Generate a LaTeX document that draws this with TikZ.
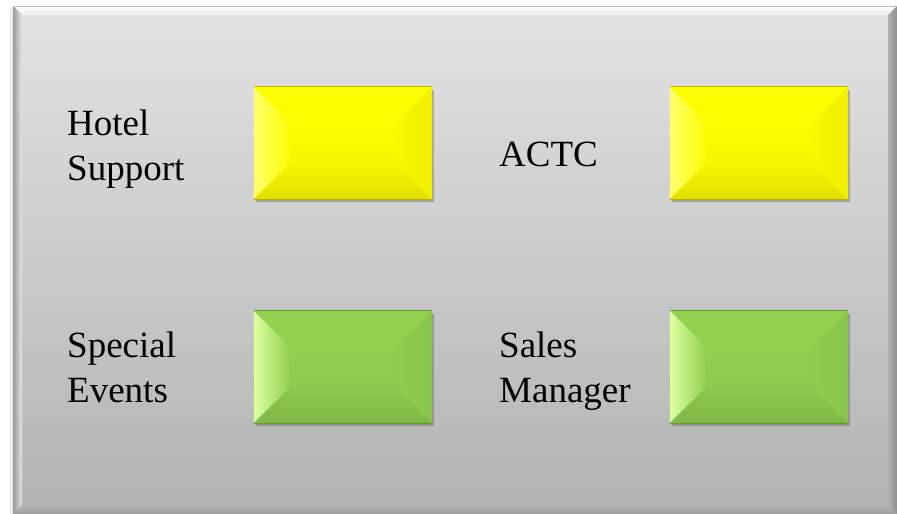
\documentclass[tikz,border=0pt]{standalone}
\usepackage{fontspec}
\setmainfont{Liberation Serif}
\usetikzlibrary{calc,shadows}

\definecolor{panelTop}{HTML}{E3E3E3}
\definecolor{panelBot}{HTML}{B2B2B2}
\definecolor{yelFace}{HTML}{FDFD00}
\definecolor{yelLight}{HTML}{FFFF70}
\definecolor{yelDark}{HTML}{E0E000}
\definecolor{yelEdge}{HTML}{B5B500}
\definecolor{grnFace}{HTML}{92D050}
\definecolor{grnLight}{HTML}{DDFFA0}
\definecolor{grnDark}{HTML}{80B646}
\definecolor{grnEdge}{HTML}{6A9A38}

\tikzset{
  x=1pt, y=-1pt,
  tile/.style={rectangle, inner sep=0pt, minimum width=178pt, minimum height=112pt,
    drop shadow={shadow xshift=2pt, shadow yshift=-3pt, opacity=0.35, fill=black!70}},
  label text/.style={anchor=base west, align=left, inner sep=0pt,
    font=\fontsize{37}{45}\selectfont, text=black},
}

% bevelled faces of a tile: #1 node, #2 face, #3 light, #4 dark, #5 edge
\newcommand\bevtile[5]{%
  \fill[#2] (#1.north west) rectangle (#1.south east);
  \path (#1.north west) ++(36,36) coordinate (#1-inw)
        (#1.north east) ++(-36,36) coordinate (#1-ine)
        (#1.south west) ++(36,-36) coordinate (#1-isw)
        (#1.south east) ++(-36,-36) coordinate (#1-ise);
  \shade[top color=#2, bottom color=#2!97!black] (#1-inw) rectangle (#1-ise);
  \fill[#2] (#1.north west) -- (#1.north east) -- (#1-ine) -- (#1-inw) -- cycle;
  \shade[left color=#3, right color=#2] (#1.north west) -- (#1-inw) -- (#1-isw) -- (#1.south west) -- cycle;
  \shade[top color=#2!97!black, bottom color=#4] (#1.south west) -- (#1-isw) -- (#1-ise) -- (#1.south east) -- cycle;
  \shade[left color=#2!98!black, right color=#2!95!black] (#1.north east) -- (#1.south east) -- (#1-ise) -- (#1-ine) -- cycle;
  \draw[#5, line width=1pt] (#1.north west) -- (#1.north east);
  \draw[#5, line width=1pt] (#1.south west) -- (#1.south east);
}

\begin{document}
\begin{tikzpicture}
  \useasboundingbox (0,0) rectangle (897,514);
  \fill[white] (0,0) rectangle (897,514);

  % soft shadow left of the panel
  \fill[black!8] (10,8) rectangle (13,514);

  % gray panel with bevelled rim
  \shade[top color=panelTop, bottom color=panelBot] (13,6) rectangle (897,514);
  \shade[top color=white, bottom color=panelTop!70!white] (13,6) -- (897,6) -- (888,15) -- (22,15) -- cycle;
  \shade[left color=black!40, right color=panelTop!90!white] (13,6) -- (22,15) -- (22,505) -- (13,514) -- cycle;
  \shade[left color=panelBot, right color=black!45] (897,6) -- (888,15) -- (888,505) -- (897,514) -- cycle;
  \shade[top color=panelBot, bottom color=black!38] (13,514) -- (22,505) -- (888,505) -- (897,514) -- cycle;
  \draw[black!25, line width=0.8pt] (13,6) -- (897,6);

  % tiles
  \node[tile, fill=yelFace] (hotelbox) at (343,143) {};
  \node[tile, fill=yelFace] (actcbox)  at (759,143) {};
  \node[tile, fill=grnFace] (eventbox) at (343,367) {};
  \node[tile, fill=grnFace] (salesbox) at (759,367) {};
  \bevtile{hotelbox}{yelFace}{yelLight}{yelDark}{yelEdge}
  \bevtile{actcbox}{yelFace}{yelLight}{yelDark}{yelEdge}
  \bevtile{eventbox}{grnFace}{grnLight}{grnDark}{grnEdge}
  \bevtile{salesbox}{grnFace}{grnLight}{grnDark}{grnEdge}

  % labels (base anchor sits on the last line)
  \node[label text] (hotel)  at (67,180)  {Hotel\\Support};
  \node[label text] (actc)   at (499,166) {ACTC};
  \node[label text] (events) at (67,402)  {Special\\Events};
  \node[label text] (sales)  at (499,402) {Sales\\Manager};
\end{tikzpicture}
\end{document}
